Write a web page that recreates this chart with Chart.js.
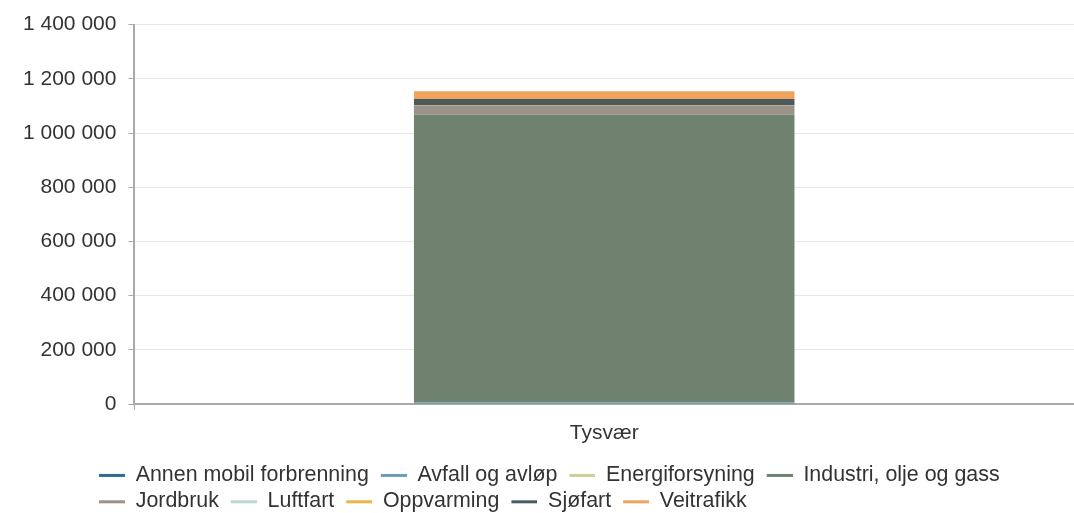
<!DOCTYPE html>
<html lang="no">
<head>
    <meta charset="UTF-8">
    <title>Utslipp Tysvær</title>
    <script src="https://cdn.jsdelivr.net/npm/chart.js"></script>
    <style>
        body { margin: 0; background: #fff; }
        #wrap { width: 1074px; height: 513px; }
    </style>
</head>
<body>
    <div id="wrap">
        <canvas id="myChart"></canvas>
    </div>

<script>
    // data lest av bildet
    const kategorier = ["Tysvær"];
    const sektorer = ["Annen mobil forbrenning", "Avfall og avløp", "Energiforsyning", "Industri, olje og gass",
                      "Jordbruk", "Luftfart", "Oppvarming", "Sjøfart", "Veitrafikk"];
    const verdier = [3000, 2500, 200, 1062000, 32000, 100, 1500, 24000, 29000];
    const farger = ["#2c6e91", "#6c9db2", "#cdcf94", "#6f826f", "#9b928a", "#bcd6d6", "#e8b64a", "#4a5a60", "#f0a35c"];
    const yTicks = [0, 200000, 400000, 600000, 800000, 1000000, 1200000, 1400000];

    function mellomrom(v) {
        return String(v).replace(/\B(?=(\d{3})+(?!\d))/g, " ");
    }

    // liten strek som legendesymbol, med litt luft til venstre
    function strek(farge) {
        const c = document.createElement("canvas");
        c.width = 33;
        c.height = 6;
        const ctx = c.getContext("2d");
        ctx.fillStyle = farge;
        ctx.fillRect(7, 2, 26, 3);
        return c;
    }

    // flytt legenden litt inn fra venstre og litt ned
    const legendShift = {
        id: "legendShift",
        afterLayout(chart) {
            chart.legend.left += 76;
            chart.legend.top += 2;
        }
    };

    const datasets = sektorer.map((navn, i) => ({
        label: navn,
        data: [verdier[i]],
        backgroundColor: farger[i],
        borderWidth: 0,
        barPercentage: 0.45,
        categoryPercentage: 0.9
    }));

    const font = { family: "Liberation Sans, Arial", size: 21 };

    const config = {
        type: "bar",
        data: { labels: kategorier, datasets: datasets },
        options: {
            responsive: true,
            maintainAspectRatio: false,
            animation: false,
            layout: { padding: { top: 10, right: 0, left: 11, bottom: -7 } },
            plugins: {
                tooltip: { enabled: false },
                legend: {
                    position: "bottom",
                    align: "start",
                    labels: {
                        usePointStyle: true,
                        pointStyleWidth: 33,
                        padding: 5,
                        color: "#333",
                        font: { family: "Liberation Sans, Arial", size: 21.4 },
                        generateLabels(chart) {
                            const items = Chart.defaults.plugins.legend.labels.generateLabels(chart);
                            items.forEach((it, i) => {
                                it.pointStyle = strek(farger[i]);
                            });
                            return items;
                        }
                    }
                }
            },
            scales: {
                x: {
                    stacked: true,
                    grid: { display: true, drawOnChartArea: false, color: "#aaa", tickLength: 6 },
                    border: { color: "#aaa", width: 2 },
                    ticks: { color: "#333", font: font, padding: 11 }
                },
                y: {
                    stacked: true,
                    min: 0,
                    max: 1400000,
                    afterBuildTicks(axis) {
                        axis.ticks = yTicks.map(v => ({ value: v }));
                    },
                    grid: { color: "#e6e6e6", tickColor: "#aaa", tickLength: 6 },
                    border: { color: "#aaa", width: 2 },
                    ticks: {
                        color: "#333",
                        padding: 12,
                        font: font,
                        callback: v => mellomrom(v)
                    }
                }
            }
        },
        plugins: [legendShift]
    };

    new Chart(document.getElementById("myChart").getContext("2d"), config);
</script>
</body>
</html>
